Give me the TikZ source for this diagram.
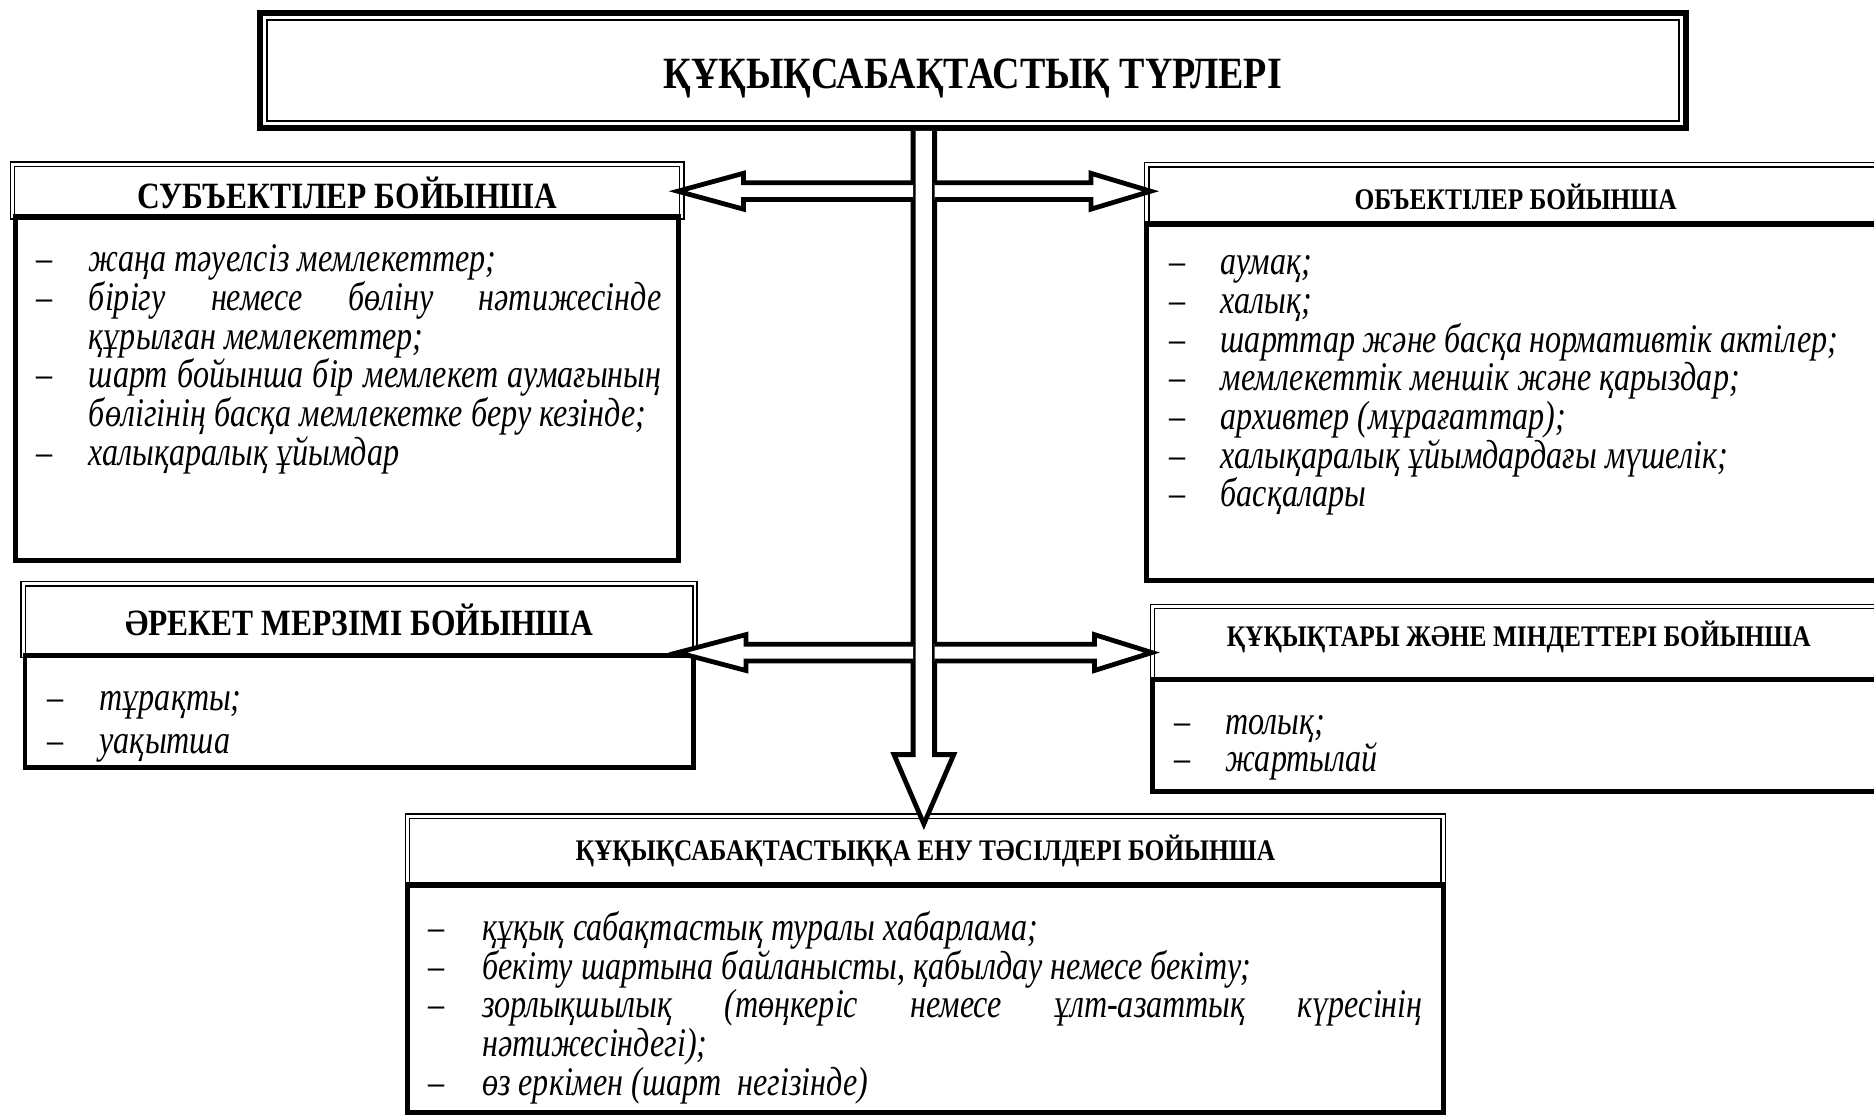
\documentclass[tikz,border=0pt]{standalone}
\usepackage{fontspec}
\setmainfont{Liberation Serif}[FakeStretch=0.85]
\newfontfamily\listfont{Liberation Serif}[FakeStretch=0.79]
\usetikzlibrary{positioning,calc}

\newenvironment{dashlist}[1][22pt]{%
  \list{–}{\setlength\leftmargin{#1}\setlength\labelwidth{#1}%
    \setlength\labelsep{0pt}\setlength\itemsep{0pt}\setlength\parsep{0pt}%
    \setlength\topsep{0pt}\setlength\partopsep{0pt}%
    \renewcommand\makelabel[1]{\upshape##1\hfil}}}
  {\endlist}

\tikzset{
  titlebox/.style={draw, line width=2.5pt, outer sep=0pt, minimum width=596.5pt, minimum height=48.5pt,
    text height=15.3pt, text depth=0pt, font={\fontsize{18.7pt}{20pt}\selectfont\bfseries}},
  head/.style={draw, double, line width=0.6pt, double distance=1.2pt},
  bighead/.style={head, font={\fontsize{15.5pt}{17pt}\selectfont\bfseries}},
  smallhead/.style={head, font={\fontsize{12.5pt}{14pt}\selectfont\bfseries}},
  body/.style={draw, line width=2pt},
  itemlist/.style={anchor=north west, inner sep=0pt, align=justify,
    font={\fontsize{17pt}{16.2pt}\selectfont\listfont\itshape\lineskiplimit=-20pt}},
  blockarrow/.style={draw, fill=white, line width=2pt, line join=miter},
}

\begin{document}
\begin{tikzpicture}[x=0.5pt, y=-0.5pt]
 \useasboundingbox (0,0) rectangle (1568,936);
 \clip (0,0) rectangle (1568,936);

 % title
 \node[titlebox] (title) at (814,59) {ҚҰҚЫҚСАБАҚТАСТЫҚ ТҮРЛЕРІ};
 \draw[line width=0.9pt] ([shift={(3pt,-3pt)}]title.north west) rectangle ([shift={(-3pt,3pt)}]title.south east);

 % by subjects
 \node[bighead, minimum width=280pt, minimum height=22pt, text height=15.2pt, text depth=0pt] (subjhead) at (290.5,159.5) {СУБЪЕКТІЛЕР БОЙЫНША};
 \node[body, minimum width=277.5pt, minimum height=143.9pt, below=-1.5pt of subjhead] (subjbody) {};
 \node[itemlist, text width=261.5pt] (subjlist) at (30,194.6) {\begin{dashlist}
   \item \strut жаңа тәуелсіз мемлекеттер;
   \item бірігу немесе бөліну нәтижесінде \linebreak құрылған мемлекеттер;
   \item шарт бойынша бір мемлекет аумағының \linebreak бөлігінің басқа мемлекетке беру кезінде;
   \item халықаралық ұйымдар
 \end{dashlist}};

 % by objects
 \node[smallhead, minimum width=308.8pt, minimum height=24.8pt, text height=12.2pt, text depth=0pt] (objhead) at (1268.2,162.8) {ОБЪЕКТІЛЕР БОЙЫНША};
 \node[body, minimum width=308.8pt, minimum height=149.4pt, below=-1.5pt of objhead] (objbody) {};
 \node[itemlist, text width=280pt] (objlist) at (978,197) {\begin{dashlist}[21.5pt]
   \item \strut аумақ;
   \item халық;
   \item шарттар және басқа нормативтік актілер;
   \item мемлекеттік меншік және қарыздар;
   \item архивтер (мұрағаттар);
   \item халықаралық ұйымдардағы мүшелік;
   \item басқалары
 \end{dashlist}};

 % by term
 \node[bighead, minimum width=281pt, minimum height=30pt] (timehead) at (300.5,518.5) {ӘРЕКЕТ МЕРЗІМІ БОЙЫНША};
 \node[body, minimum width=279.5pt, minimum height=47pt, below=-1.5pt of timehead] (timebody) {};
 \node[itemlist, text width=257pt, font={\fontsize{17pt}{18pt}\selectfont\listfont\itshape\lineskiplimit=-20pt}] (timelist) at (39,558) {\begin{dashlist}
   \item \strut тұрақты;
   \item уақытша
 \end{dashlist}};

 % by rights and duties
 \node[smallhead, minimum width=306.3pt, minimum height=30.6pt, text height=8.3pt, text depth=5pt] (rightshead) at (1270.7,538) {ҚҰҚЫҚТАРЫ ЖӘНЕ МІНДЕТТЕРІ БОЙЫНША};
 \node[body, minimum width=306.3pt, minimum height=46.9pt, below=-1.5pt of rightshead] (rightsbody) {};
 \node[itemlist, text width=280pt, font={\fontsize{17pt}{15.5pt}\selectfont\listfont\itshape\lineskiplimit=-20pt}] (rightslist) at (982,583) {\begin{dashlist}[21.5pt]
   \item \strut толық;
   \item жартылай
 \end{dashlist}};

 % by ways of entering
 \node[smallhead, minimum width=433.3pt, minimum height=28.8pt] (methhead) at (774.3,711.8) {ҚҰҚЫҚСАБАҚТАСТЫҚҚА ЕНУ ТӘСІЛДЕРІ БОЙЫНША};
 \node[body, minimum width=433.3pt, minimum height=95.4pt, below=-1.5pt of methhead] (methbody) {};
 \node[itemlist, text width=416pt] (methlist) at (358,754) {\begin{dashlist}[22.5pt]
   \item \strut құқық сабақтастық туралы хабарлама;
   \item бекіту шартына байланысты, қабылдау немесе бекіту;
   \item зорлықшылық (төңкеріс немесе ұлт-азаттық күресінің \linebreak нәтижесіндегі);
   \item өз еркімен (шарт\ \ негізінде)
 \end{dashlist}};

 % block arrows
 \coordinate (mid1) at (773,160);
 \coordinate (mid2) at (773,546);
 \coordinate (stemtop) at ($(mid1 |- title.south)+(0,2)$);
 \coordinate (stemtip) at ($(mid2 |- methhead.north)+(0,7)$);
 \filldraw[blockarrow] ($(stemtop)+(-9,0)$) -- ($(stemtip)+(-9,-58)$) -- ($(stemtip)+(-25,-58)$) -- (stemtip)
   -- ($(stemtip)+(25,-58)$) -- ($(stemtip)+(9,-58)$) -- ($(stemtop)+(9,0)$);
 \foreach \hd/\mm/\s/\p/\hl in {subjhead.east/mid1/-1/4/55, objhead.west/mid1/1/4/50,
   timehead.east/mid2/-1/15/57, rightshead.west/mid2/1/0/48}{
  \coordinate (tip) at ($(\hd |- \mm)+(\p*\s,0)$);
  \coordinate (root) at ($(\mm)+(9*\s,0)$);
  \filldraw[blockarrow] ($(root)+(0,-7)$) -- ($(tip)+(-\hl*\s,-7)$) -- ($(tip)+(-\hl*\s,-15)$) -- (tip)
    -- ($(tip)+(-\hl*\s,15)$) -- ($(tip)+(-\hl*\s,7)$) -- ($(root)+(0,7)$);
 }
\end{tikzpicture}
\end{document}
